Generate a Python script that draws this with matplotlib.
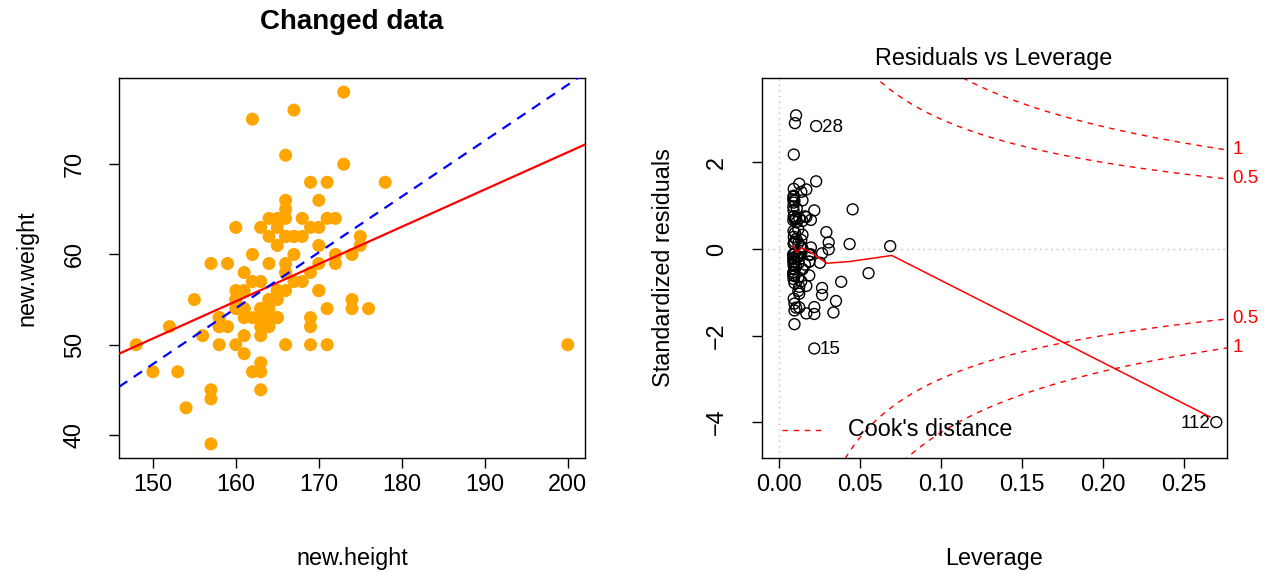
import numpy as np
import matplotlib
matplotlib.use('Agg')
import matplotlib.pyplot as plt

plt.rcParams['font.family'] = ['Liberation Sans', 'DejaVu Sans']

# heights / weights (point 112 is the changed one)
height = [165, 160, 170, 163, 158, 166, 162, 155, 168, 161,
          169, 164, 150, 167, 157, 166, 171, 163, 160, 174,
          164, 159, 165, 162, 170, 163, 166, 173, 161, 169,
          164, 172, 153, 166, 160, 167, 163, 171, 165, 158,
          170, 164, 166, 162, 175, 161, 169, 157, 165, 163,
          178, 164, 160, 167, 152, 166, 161, 173, 163, 168,
          156, 164, 170, 162, 166, 159, 171, 165, 148, 169,
          163, 167, 161, 174, 164, 168, 157, 165, 160, 172,
          163, 166, 154, 169, 162, 176, 165, 170, 164, 157,
          166, 171, 161, 169, 164, 175, 163, 167, 172, 158,
          166, 174, 163, 158, 160, 170, 158, 163, 165, 166,
          161, 200]
weight = [56, 54, 66, 52, 50, 62, 60, 55, 64, 53,
          58, 55, 47, 62, 39, 71, 68, 57, 56, 55,
          62, 52, 63, 75, 61, 45, 58, 78, 51, 68,
          53, 60, 47, 64, 63, 76, 54, 50, 55, 53,
          56, 59, 50, 57, 62, 56, 52, 45, 61, 48,
          68, 64, 55, 57, 52, 65, 54, 70, 63, 62,
          51, 54, 63, 47, 59, 59, 54, 53, 50, 63,
          51, 60, 49, 60, 52, 57, 59, 64, 50, 59,
          47, 56, 43, 53, 53, 54, 56, 59, 53, 44,
          66, 64, 58, 50, 55, 61, 53, 62, 64, 52,
          58, 54, 54, 53, 55, 56, 52, 53, 53, 62,
          54, 50]

red_fit = (-11.27, 0.413)    # intercept, slope (changed data)
blue_fit = (-45.0, 0.619)    # intercept, slope (original data)

# loess-type smoother drawn on the leverage plot
smooth_lev = [0.0089, 0.011, 0.014, 0.019, 0.0296, 0.0438, 0.0697, 0.266]
smooth_res = [0.08, -0.08, 0.03, -0.06, -0.33, -0.29, -0.15, -3.88]

label_ids = [112, 28, 15]
cook_levels = [0.5, 1]

W, H = 1269, 573
FS = 16.8
fig = plt.figure(figsize=(W / 100, H / 100), dpi=100)


def box(l, r, t, b):
    return [l / W, 1 - b / H, (r - l) / W, (b - t) / H]


def ftext(x, y, s, **kw):
    fig.text(x / W, 1 - y / H, s, ha='center', va='center', **kw)


def style_axes(ax):
    for sp in ax.spines.values():
        sp.set_linewidth(1.0)
    ax.tick_params(direction='out', length=7, width=1, labelsize=FS)
    ax.tick_params(axis='x', pad=3.5)
    ax.tick_params(axis='y', pad=17)
    for lab in ax.get_yticklabels():
        lab.set_rotation(90)
        lab.set_va('center')


# ---- left: scatter with two fitted lines
ax1 = fig.add_axes(box(119, 585, 78, 458))
x = np.array(height, float)
y = np.array(weight, float)
ax1.scatter(x, y, s=88, color='orange', edgecolor='none', zorder=3)
ax1.set_xlim(145.92, 202.08)
ax1.set_ylim(37.44, 79.56)
xx = np.array(ax1.get_xlim())
ax1.plot(xx, red_fit[0] + red_fit[1] * xx, color='red', lw=1.6, zorder=4)
ax1.plot(xx, blue_fit[0] + blue_fit[1] * xx, color='blue', lw=1.6,
         dashes=(4.5, 3.5), zorder=4)
ax1.set_xticks([150, 160, 170, 180, 190, 200])
ax1.set_yticks([40, 50, 60, 70])
style_axes(ax1)
ftext(352, 22, 'Changed data', fontsize=20, fontweight='bold')
ftext(352, 558, 'new.height', fontsize=FS)
ftext(27, 268, 'new.weight', fontsize=FS, rotation=90)

# ---- right: residuals vs leverage
n = len(x)
b1, b0 = np.polyfit(x, y, 1)
resid = y - (b0 + b1 * x)
sigma = np.sqrt(np.sum(resid ** 2) / (n - 2))
lev = 1 / n + (x - x.mean()) ** 2 / np.sum((x - x.mean()) ** 2)
rstd = resid / (sigma * np.sqrt(1 - lev))

ax2 = fig.add_axes(box(761.5, 1227, 78, 458))
ax2.set_xlim(-0.0107, 0.2765)
ax2.set_ylim(-4.83, 3.95)
ax2.axhline(0, color='#bebebe', lw=1, ls=(0, (1, 3)), zorder=1)
ax2.axvline(0, color='#bebebe', lw=1, ls=(0, (1, 3)), zorder=1)
ax2.scatter(lev, rstd, s=62, facecolor='none', edgecolor='black', lw=1.0,
            zorder=3, clip_on=False)
ax2.plot(smooth_lev, smooth_res, color='red', lw=1.1, zorder=4)

p = 2
hh = np.linspace(min(lev.min(), lev.max() / 100), ax2.get_xlim()[1], 101)
for lvl in cook_levels:
    cl = np.sqrt(lvl * p * (1 - hh) / hh)
    ax2.plot(hh, cl, color='red', lw=1, dashes=(4, 4), zorder=2)
    ax2.plot(hh, -cl, color='red', lw=1, dashes=(4, 4), zorder=2)
    lab = '%g' % lvl
    for s in (1, -1):
        ax2.annotate(lab, (1.0, s * cl[-1]), xycoords=('axes fraction', 'data'),
                     xytext=(4, 0), textcoords='offset points',
                     ha='left', va='center', color='red', fontsize=13.5,
                     annotation_clip=False)

for i in label_ids:
    k = i - 1
    right = lev[k] > np.mean(ax2.get_xlim())
    ax2.annotate(str(i), (lev[k], rstd[k]), xytext=(-4 if right else 4, -1),
                 textcoords='offset points', ha='right' if right else 'left',
                 va='center', fontsize=13.5)

# legend, as R draws it in the bottom-left corner
lx0, lx1, ly = (782 - 761.5) / 465.5, (822 - 761.5) / 465.5, (458 - 430) / 380
ax2.plot([lx0, lx1], [ly, ly], color='red', lw=1, dashes=(4, 4),
         transform=ax2.transAxes)
ax2.text((848 - 761.5) / 465.5, ly, "Cook's distance", transform=ax2.transAxes,
         ha='left', va='center', fontsize=FS)

ax2.set_xticks([0.0, 0.05, 0.10, 0.15, 0.20, 0.25])
ax2.set_xticklabels(['0.00', '0.05', '0.10', '0.15', '0.20', '0.25'])
ax2.set_yticks([-4, -2, 0, 2])
ax2.set_yticklabels(['\u22124', '\u22122', '0', '2'])
style_axes(ax2)
ftext(994, 58, 'Residuals vs Leverage', fontsize=FS)
ftext(994, 558, 'Leverage', fontsize=FS)
ftext(663, 268, 'Standardized residuals', fontsize=FS, rotation=90)

fig.savefig('out.png', dpi=100)
